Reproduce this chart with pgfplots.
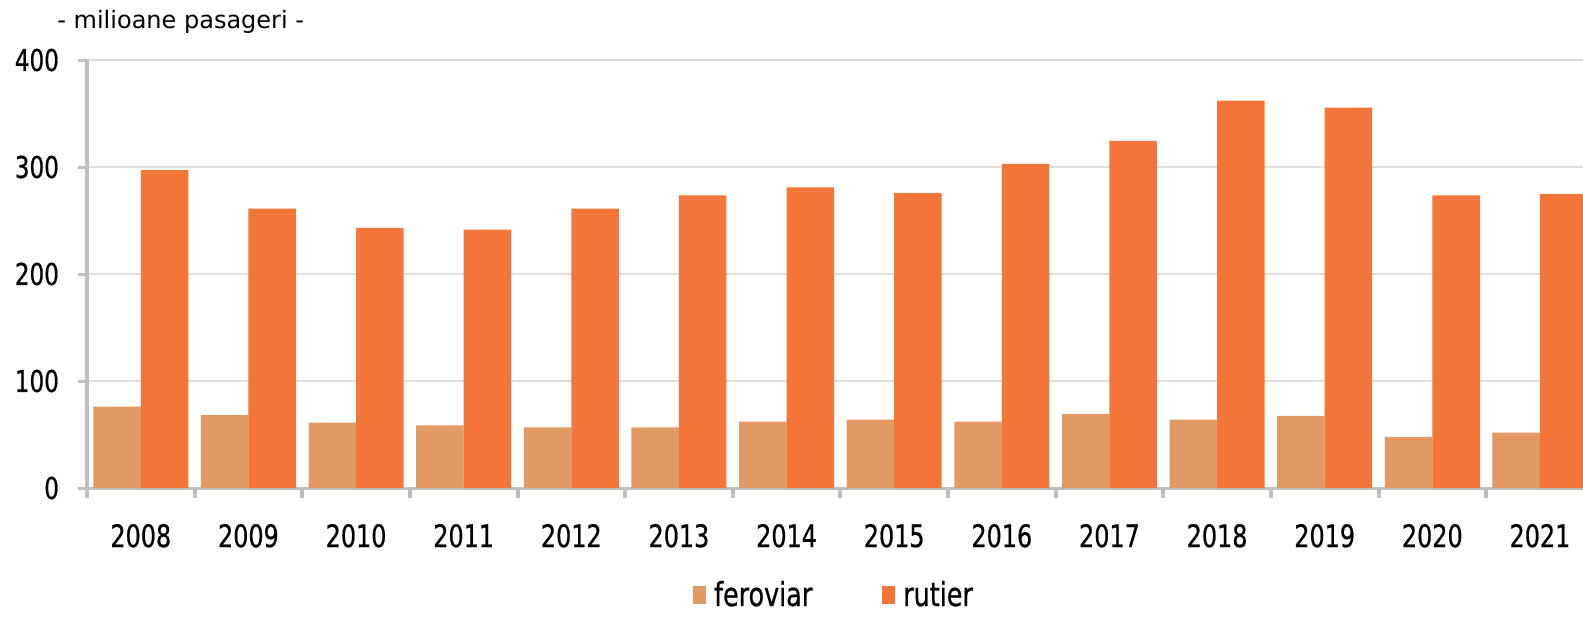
\documentclass[border=0pt]{standalone}
\usepackage{fontspec}
\setmainfont{DejaVu Sans}
\newfontfamily\cond{DejaVu Sans}[FakeStretch=0.77, FakeBold=0.6]
\usepackage{pgfplots}
\usepackage{pgfplotstable}
\pgfplotsset{compat=1.18}
\definecolor{fer}{HTML}{E29A64}
\definecolor{rut}{HTML}{F37537}
\definecolor{axgray}{HTML}{BFBFBF}
\definecolor{gridgray}{HTML}{DDDDDD}
\pgfplotstableread{
x fer rut
0 76 297
1 68 261
2 61 243
3 58.5 241.5
4 56.6 261
5 56.6 273.6
6 62 281
7 64 275.5
8 62 303
9 69 324.5
10 64 362
11 67.3 355.5
12 47.7 273.5
13 51.7 274.8
}\datatable
\begin{document}
\begin{tikzpicture}
\begin{axis}[
  name=main,
  at={(0,0)}, anchor=south west,
  scale only axis, width=748pt, height=214pt,
  ybar=0pt, bar width=23.75pt,
  xmin=-0.5, xmax=13.40, ymin=0, ymax=400,
  ytick={0,100,200,300,400},
  xtick={0,...,13},
  xticklabels={2008,2009,2010,2011,2012,2013,2014,2015,2016,2017,2018,2019,2020,2021},
  xtick style={draw=none},
  extra x ticks={-0.5,0.5,1.5,2.5,3.5,4.5,5.5,6.5,7.5,8.5,9.5,10.5,11.5,12.5},
  extra x tick labels={},
  extra x tick style={xtick style={draw=axgray, line width=2pt}, tick align=outside, major tick length=5pt, grid=none},
  ytick style={draw=axgray, line width=1.5pt},
  tick align=outside, major tick length=4.5pt,
  axis x line*=bottom, axis y line*=left,
  axis line style={-, axgray},
  x axis line style={line width=1.5pt},
  y axis line style={line width=2pt},
  ymajorgrids, major grid style={gridgray, line width=1pt},
  /pgf/number format/assume math mode=true,
  yticklabel style={font=\cond\fontsize{15}{18}\selectfont, xshift=-6pt},
  xticklabel style={font=\cond\fontsize{15.5}{18}\selectfont, yshift=-10pt},
  legend style={at={(0.5,-0.250)}, anchor=center, draw=none, legend columns=2,
    font=\cond\fontsize{16.5}{19}\selectfont, inner sep=1pt,
    /tikz/every even column/.append style={column sep=33pt}},
  legend image code/.code={\path[#1,draw=none] (0pt,-4.5pt) rectangle (6.5pt,4.5pt);},
  legend cell align=left,
]
\addplot[fill=fer, draw=none] table[x=x,y=fer]{\datatable};
\addplot[fill=rut, draw=none] table[x=x,y=rut]{\datatable};
\legend{\hspace{2pt}feroviar, \hspace{2pt}rutier}
\end{axis}
\node[anchor=west, inner sep=0pt, font=\fontsize{12}{14}\selectfont] at ([xshift=-15pt, yshift=19pt]main.north west) {- milioane pasageri -};
\pgfresetboundingbox
\path (-43.5pt,-64pt) rectangle (748pt,244pt);
\end{tikzpicture}
\end{document}
